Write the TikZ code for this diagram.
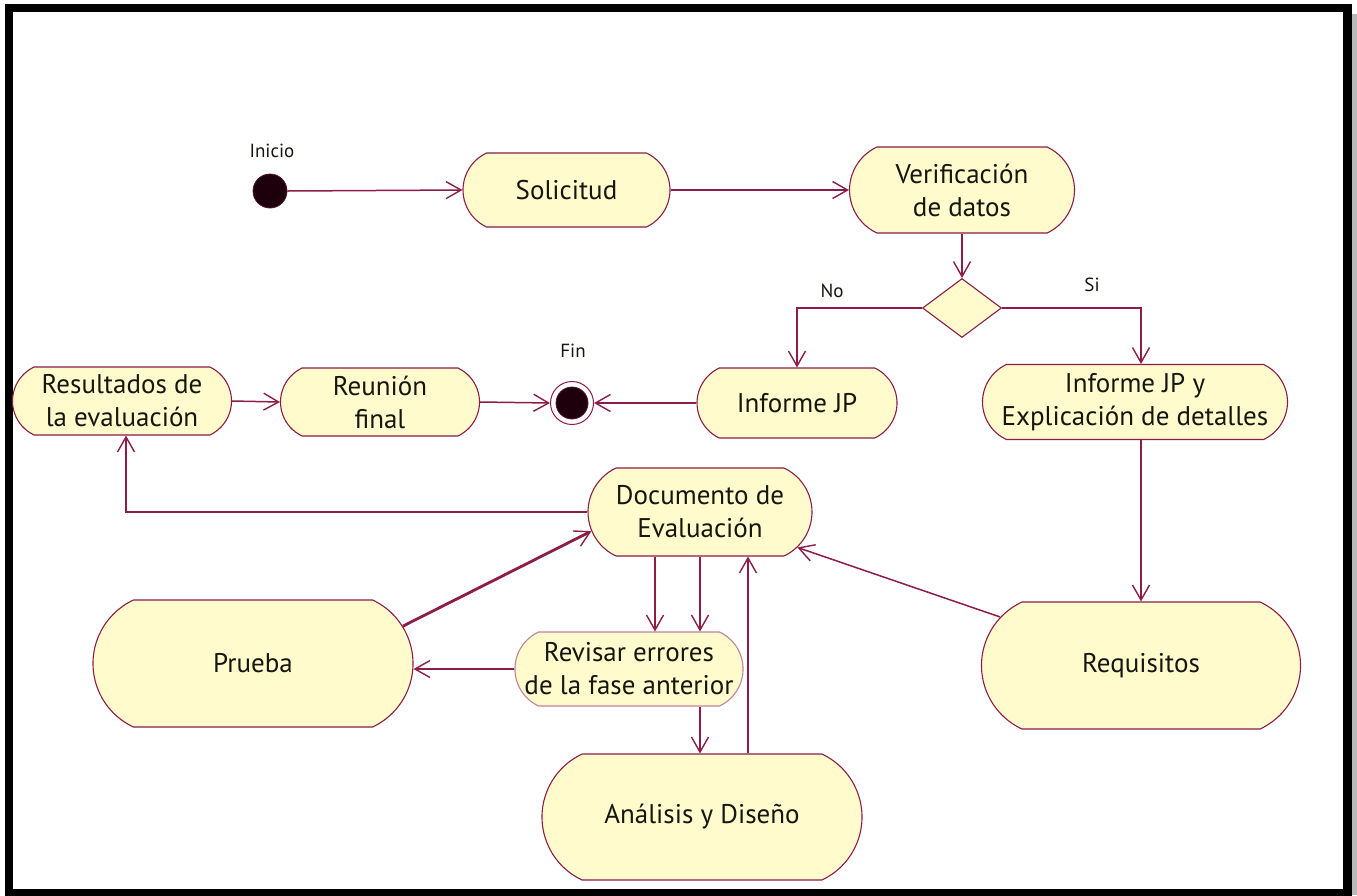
\documentclass[tikz,border=0pt]{standalone}
\usepackage{fontspec}
\setmainfont{PT Sans}
\usetikzlibrary{shapes.misc,shapes.geometric,arrows.meta,calc}
\definecolor{edgec}{RGB}{140,28,72}
\definecolor{fillc}{RGB}{255,251,204}
\definecolor{inkc}{RGB}{22,22,16}
\definecolor{dotc}{RGB}{30,0,12}

\begin{document}
\begin{tikzpicture}[x=1pt,y=-1pt,
  activity/.style={rounded rectangle, rounded rectangle arc length=130,
    draw=edgec, line width=1.1pt, fill=fillc, text=inkc, inner sep=0pt,
    align=center, font=\fontsize{27}{33}\selectfont},
  startstate/.style={circle, fill=dotc, draw=edgec!60!black, line width=0.8pt,
    minimum size=34pt, inner sep=0pt},
  endring/.style={circle, draw=edgec, line width=1pt, fill=white,
    minimum size=43pt, inner sep=0pt},
  decisionbox/.style={diamond, draw=edgec, line width=1.1pt, fill=fillc,
    minimum width=79pt, minimum height=59pt, inner sep=0pt, aspect=1.34},
  smalllabel/.style={font=\fontsize{19}{22}\selectfont, text=inkc, inner sep=0pt},
  flow/.style={draw=edgec, line width=1.5pt,
    -{Straight Barb[length=15pt,width=17pt,line width=1.4pt]}},
]
\useasboundingbox (0,0) rectangle (1357,895);

% frame with a soft shadow on the right
\fill[gray!55] (1351,14) rectangle (1357,895);
\draw[line width=8.5pt] (9,8) rectangle (1347.5,893);

% states
\node[startstate] (inicio) at (270,191) {};
\node[smalllabel] (inicioLbl) at (272,151) {Inicio};
\node[activity, minimum width=207pt, minimum height=74pt] (solicitud) at (566.5,190) {Solicitud};
\node[activity, minimum width=225pt, minimum height=86pt] (verif) at (962,190) {Verificación\\de datos};
\node[decisionbox] (decision) at (962,308) {};
\node[smalllabel] (noLbl) at (832,291) {No};
\node[smalllabel] (siLbl) at (1092,285) {Si};
\node[activity, minimum width=200pt, minimum height=70pt] (informe) at (797,403) {Informe JP};
\node[activity, minimum width=305pt, minimum height=75pt] (informeDet) at (1135,402) {Informe JP y\\Explicación de detalles};
\node[endring] (fin) at (572,403) {};
\node[startstate, minimum size=32pt] (finDot) at (fin) {};
\node[smalllabel] (finLbl) at (573,351) {Fin};
\node[activity, minimum width=219pt, minimum height=68pt] (resultados) at (122,401) {Resultados de\\la evaluación};
\node[activity, minimum width=199pt, minimum height=68pt] (reunion) at (380,402) {Reunión\\final};
\node[activity, minimum width=224pt, minimum height=88pt] (documento) at (700,512) {Documento de\\Evaluación};
\node[activity, minimum width=320pt, minimum height=127pt] (prueba) at (253,663.5) {Prueba};
\node[activity, draw=edgec!55, minimum width=228pt, minimum height=74pt] (revisar) at (629,669) {Revisar errores\\de la fase anterior};
\node[activity, minimum width=320pt, minimum height=126pt] (analisis) at (702,817) {Análisis y Diseño};
\node[activity, minimum width=319pt, minimum height=127pt] (requisitos) at (1141,665.5) {Requisitos};

% helper points on flat edges
\coordinate (docA) at ([xshift=-45pt]documento.south);
\coordinate (docB) at (documento.south);
\coordinate (revC) at ([xshift=71pt]revisar.south);
\coordinate (anaD) at ([xshift=46pt]analisis.north);
\coordinate (detS) at ([xshift=6pt]informeDet.south);
\coordinate (detN) at ([xshift=6pt]informeDet.north);
\coordinate (resS) at ([xshift=4pt]resultados.south);

% transitions
\draw[flow] (inicio.east) -- (solicitud.west);
\draw[flow] (solicitud.east) -- (verif.west);
\draw[flow] (verif.south) -- (decision.north);
\draw[flow] (decision.west) -| (informe.north);
\draw[flow] (decision.east) -| (detN);
\draw[flow] (detS) -- (requisitos.north);
\draw[flow] (informe.west) -- (fin.east);
\draw[flow] (reunion.east) -- (fin.west);
\draw[flow] (resultados.east) -- (reunion.west);
\draw[flow] (documento.west) -| (resS);
\draw[flow] (docA) -- (docA |- revisar.north);
\draw[flow] (docB) -- (docB |- revisar.north);
\draw[flow] (revC) -- (revC |- analisis.north);
\draw[flow] (anaD) -- (anaD |- documento.south);
\draw[flow] (revisar.west) -- (revisar.west -| prueba.east);
\draw[flow, line width=2.8pt] (prueba.14) -- (documento.190);
\draw[flow] (requisitos.161) -- (documento.340);
\end{tikzpicture}
\end{document}
